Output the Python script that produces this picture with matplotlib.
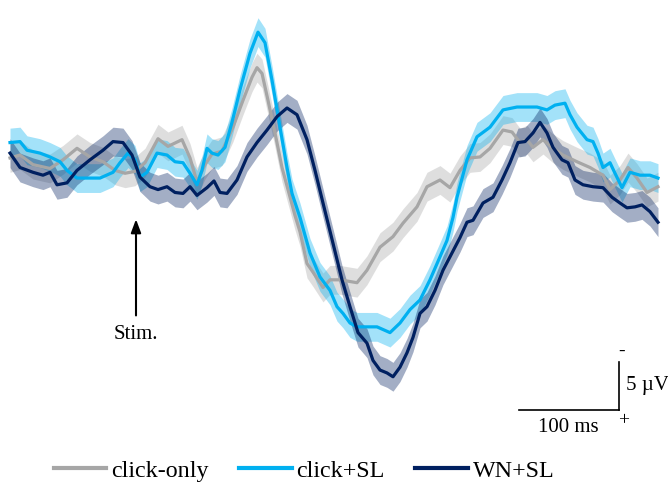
import matplotlib
matplotlib.use("Agg")
import matplotlib.pyplot as plt
from matplotlib.lines import Line2D

plt.rcParams['font.family'] = ['Liberation Serif', 'DejaVu Serif']

# ---- data (time in ms re: stimulus, amplitude in µV; negative plotted up) ----
t_click = [-126, -116, -103, -86, -73, -59, -46, -33, -21, -11, -1, 9, 22, 32, 46, 54, 61, 69, 76, 86,
           97, 107, 116, 121, 126, 132, 139, 146, 152, 159, 164, 171, 177, 187, 194, 204, 221, 231, 244, 257,
           267, 281, 291, 304, 314, 324, 334, 344, 354, 367, 376, 384, 391, 397, 407, 417, 427, 441, 454, 467,
           474, 484, 492, 501, 511, 522]
v_click = [0.3, 0.0, 1.0, 1.4, 0.5, -0.7, 0.2, 0.7, 1.6, 1.9, 1.7, 0.8, -1.7, -0.9, -1.6, 0.3, 2.8, 1.0, -0.1, -0.4,
           -2.9, -5.7, -8.1, -9.1, -8.5, -5.7, -2.3, 1.3, 3.6, 6.3, 8.0, 11.3, 12.2, 13.8, 13.0, 13.0, 13.3, 12.0, 9.6, 8.5,
           7.1, 5.4, 3.3, 2.6, 3.4, 1.6, 0.3, 0.2, -0.7, -2.6, -2.4, -1.3, -1.6, -0.8, -1.6, -0.7, 0.0, 0.7, 1.3, 2.1,
           3.6, 2.6, 1.3, 2.4, 3.9, 3.3]
sem_click = 1.5

t_csl = [-126, -116, -109, -96, -86, -76, -69, -59, -46, -36, -23, -16, -8, -1, 4, 11, 21, 31, 39, 47,
         54, 61, 66, 71, 76, 82, 89, 96, 104, 114, 122, 129, 136, 144, 151, 156, 164, 174, 184, 194,
         201, 207, 214, 221, 231, 241, 254, 264, 274, 284, 294, 304, 311, 317, 321, 331, 341, 354, 367, 381,
         391, 401, 411, 419, 429, 434, 441, 451, 457, 462, 467, 474, 479, 486, 494, 504, 514, 522]
v_csl = [-1.3, -1.4, -0.5, -0.2, 0.2, 0.7, 1.6, 2.4, 2.4, 2.4, 1.8, 0.8, -0.2, 0.5, 2.3, 1.8, -0.2, 0.0, 0.7, 0.8,
         1.9, 3.1, 1.6, -0.7, -0.2, 0.0, -0.8, -3.4, -6.8, -10.6, -12.8, -11.7, -7.8, -2.9, 1.3, 4.0, 6.5, 10.2, 12.7, 14.1,
         15.8, 16.5, 17.5, 17.9, 17.9, 17.9, 18.5, 17.5, 16.1, 15.1, 13.0, 10.6, 8.9, 6.5, 4.4, 0.5, -1.9, -2.9, -4.7, -5.0,
         -5.0, -5.0, -4.7, -5.2, -5.4, -4.2, -2.9, -1.6, -1.4, -0.2, 1.3, 0.8, 1.9, 3.4, 1.8, 2.1, 2.1, 2.4]
sem_csl = 1.5

t_wn = [-126, -116, -103, -93, -86, -79, -69, -59, -46, -33, -23, -13, -4, 4, 14, 22, 31, 39, 47, 54,
        61, 71, 78, 84, 91, 101, 111, 121, 131, 141, 151, 161, 171, 179, 187, 197, 206, 214, 222, 231,
        237, 244, 251, 257, 264, 271, 277, 284, 291, 299, 307, 314, 324, 331, 337, 347, 357, 366, 374, 382,
        389, 397, 404, 411, 417, 426, 432, 439, 447, 457, 467, 476, 484, 491, 499, 506, 514, 522]
v_wn = [-0.2, 1.3, 1.8, 2.1, 1.8, 3.1, 2.9, 1.6, 0.5, -0.5, -1.4, -1.3, 0.0, 2.3, 3.3, 3.6, 3.3, 3.9, 4.0, 3.3,
        4.2, 3.4, 2.7, 3.9, 4.0, 2.6, 0.2, -1.3, -2.6, -4.0, -4.9, -4.2, -1.6, 1.6, 5.0, 9.2, 13.0, 15.8, 18.5, 19.6,
        21.4, 22.4, 22.7, 23.1, 22.1, 20.6, 19.0, 16.5, 15.8, 14.1, 12.0, 10.6, 8.6, 7.0, 6.8, 5.0, 4.4, 2.6, 0.8, -1.3,
        -1.4, -2.3, -3.4, -2.3, -0.8, 0.5, 0.8, 2.6, 3.1, 3.3, 3.4, 4.4, 5.0, 5.5, 5.4, 5.2, 5.9, 7.0]
sem_wn = 1.5

labels = ['click-only', 'click+SL', 'WN+SL']
colors = ['#a6a6a6', '#00b0f0', '#002060']

series = [(t_click, v_click, sem_click), (t_csl, v_csl, sem_csl), (t_wn, v_wn, sem_wn)]

fig = plt.figure(figsize=(6.68, 4.84), dpi=100)
ax = fig.add_axes([0, 0, 1, 1])
ax.set_xlim(-136, 532)
ax.set_ylim(34.27, -16.15)
ax.axis('off')

for (t, v, s), c in zip(series, colors):
    lo = [x - s for x in v]
    hi = [x + s for x in v]
    ax.fill_between(t, lo, hi, color=c, alpha=0.36, linewidth=0)
    ax.plot(t, v, color=c, lw=2.3, solid_joinstyle='round')

# stimulus arrow
ax.annotate('', xy=(0, 6.4), xytext=(0, 17.0),
            arrowprops=dict(arrowstyle='-|>,head_width=0.3,head_length=0.8', color='black', lw=1.5))
ax.text(0, 18.7, 'Stim.', ha='center', va='center', fontsize=15)

# scale bar (100 ms, 5 µV)
sx0, sx1 = 383, 483
sy0 = 26.56
ax.plot([sx0, sx1], [sy0, sy0], color='black', lw=1.2)
ax.plot([sx1, sx1], [sy0, sy0 - 5], color='black', lw=1.2)
ax.text(486, 20.5, '-', ha='center', va='center', fontsize=14)
ax.text(488, 27.7, '+', ha='center', va='center', fontsize=14)
ax.text(490, 24.0, '5 µV', ha='left', va='center', fontsize=15)
ax.text(432, 28.4, '100 ms', ha='center', va='center', fontsize=15)

handles = [Line2D([], [], color=c, lw=3.0) for c in colors]
fig.legend(handles, labels, loc='center', bbox_to_anchor=(0.455, 0.027), ncol=3, frameon=False,
           fontsize=17.3, handlelength=2.2, handletextpad=0.2, columnspacing=1.25, borderaxespad=0,
           borderpad=0)

fig.savefig('out.png', dpi=100)
